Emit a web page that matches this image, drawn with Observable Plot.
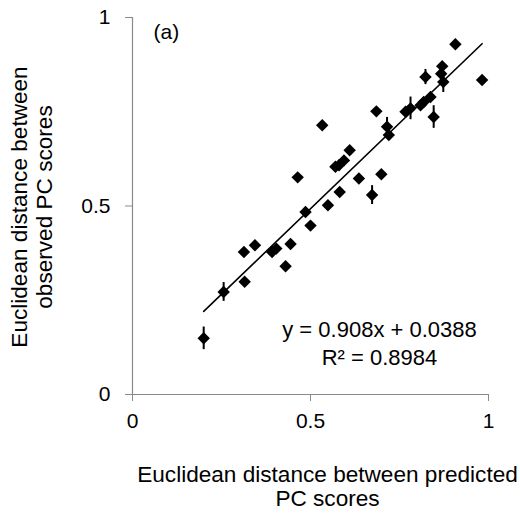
<!DOCTYPE html>
<html>
<head>
<meta charset="utf-8">
<script src="https://cdn.jsdelivr.net/npm/d3@7"></script>
<script src="https://cdn.jsdelivr.net/npm/@observablehq/plot@0.6"></script>
<style>
  html, body { margin: 0; padding: 0; background: #fff; }
</style>
</head>
<body>
<div id="chart"></div>
<script>
// Predicted (x) vs observed (y) Euclidean distances, with vertical error half-widths
const predicted = [0.907, 0.982, 0.870, 0.823, 0.867, 0.873, 0.837, 0.818, 0.809, 0.781,
                   0.767, 0.846, 0.685, 0.533, 0.715, 0.720, 0.610, 0.594, 0.580, 0.570,
                   0.464, 0.636, 0.699, 0.582, 0.673, 0.549, 0.486, 0.500, 0.313, 0.344,
                   0.392, 0.404, 0.444, 0.430, 0.315, 0.256, 0.200];
const observed  = [0.929, 0.834, 0.871, 0.842, 0.851, 0.829, 0.789, 0.776, 0.767, 0.759,
                   0.750, 0.736, 0.751, 0.714, 0.710, 0.688, 0.648, 0.621, 0.608, 0.604,
                   0.576, 0.573, 0.584, 0.537, 0.529, 0.502, 0.484, 0.448, 0.378, 0.396,
                   0.378, 0.387, 0.399, 0.340, 0.299, 0.272, 0.149];
const errors    = [0, 0, 0, 0.02, 0, 0.028, 0, 0, 0, 0.03,
                   0, 0.03, 0, 0, 0.025, 0, 0, 0, 0, 0,
                   0, 0, 0, 0, 0.025, 0, 0, 0, 0, 0,
                   0, 0, 0, 0, 0, 0.025, 0.03];
const xTicks = [0, 0.5, 1];
const yTicks = [0, 0.5, 1];
const slope = 0.908, intercept = 0.0388, r2 = 0.8984;
const panelLabel = "(a)";
const xTitle = "Euclidean distance between predicted\nPC scores";
const yTitle = "Euclidean distance between\nobserved PC scores";

const data = predicted.map((x, i) => ({x, y: observed[i], e: errors[i]}));
const [xmin, xmax] = d3.extent(predicted);
const fit = [xmin, xmax].map(x => ({x, y: slope * x + intercept}));
const eqText = `y = ${slope}x + ${intercept}\nR² = ${r2}`;

const font = "'Liberation Sans', Arial, Helvetica, sans-serif";
const axisGray = "#8a8a8a";
const fmt = d => String(d);

const chart = Plot.plot({
  width: 520,
  height: 513,
  marginLeft: 132,
  marginRight: 32,
  marginTop: 17,
  marginBottom: 119,
  style: {fontFamily: font, fontSize: "21px", background: "#fff", color: "#000"},
  x: {domain: [0, 1]},
  y: {domain: [0, 1]},
  marks: [
    Plot.ruleX([0], {stroke: axisGray, strokeWidth: 1.2}),
    Plot.ruleY([0], {stroke: axisGray, strokeWidth: 1.2}),
    Plot.axisX({ticks: xTicks, tickFormat: fmt, tickSize: 7, tickPadding: 12, stroke: axisGray, fill: "#000", fontSize: 21, label: null}),
    Plot.axisY({ticks: yTicks, tickFormat: fmt, tickSize: 7, tickPadding: 15, stroke: axisGray, fill: "#000", fontSize: 21, label: null}),
    Plot.ruleX(data.filter(d => d.e > 0), {x: "x", y1: d => d.y - d.e, y2: d => d.y + d.e, stroke: "#000", strokeWidth: 2}),
    Plot.line(fit, {x: "x", y: "y", stroke: "#000", strokeWidth: 1.6}),
    Plot.dot(data, {x: "x", y: "y", symbol: "diamond2", r: 5.6, fill: "#000", stroke: "none"}),
    Plot.text([panelLabel], {frameAnchor: "top-left", textAnchor: "start", lineAnchor: "top", dx: 21, dy: 7, fontSize: 21, fill: "#000"}),
    Plot.text([eqText], {frameAnchor: "top-left", textAnchor: "middle", lineAnchor: "top", lineHeight: 1.27, dx: 247, dy: 300, fontSize: 22, fill: "#000"}),
    Plot.text([xTitle], {frameAnchor: "bottom", textAnchor: "middle", lineAnchor: "top", lineHeight: 1.08, dx: 17, dy: 70, fontSize: 22.6, fill: "#000"}),
    Plot.text([yTitle], {frameAnchor: "left", textAnchor: "middle", lineAnchor: "middle", lineHeight: 1.08, rotate: -90, dx: -101, dy: 1, fontSize: 22.6, fill: "#000"})
  ]
});
document.getElementById("chart").appendChild(chart);
</script>
</body>
</html>
